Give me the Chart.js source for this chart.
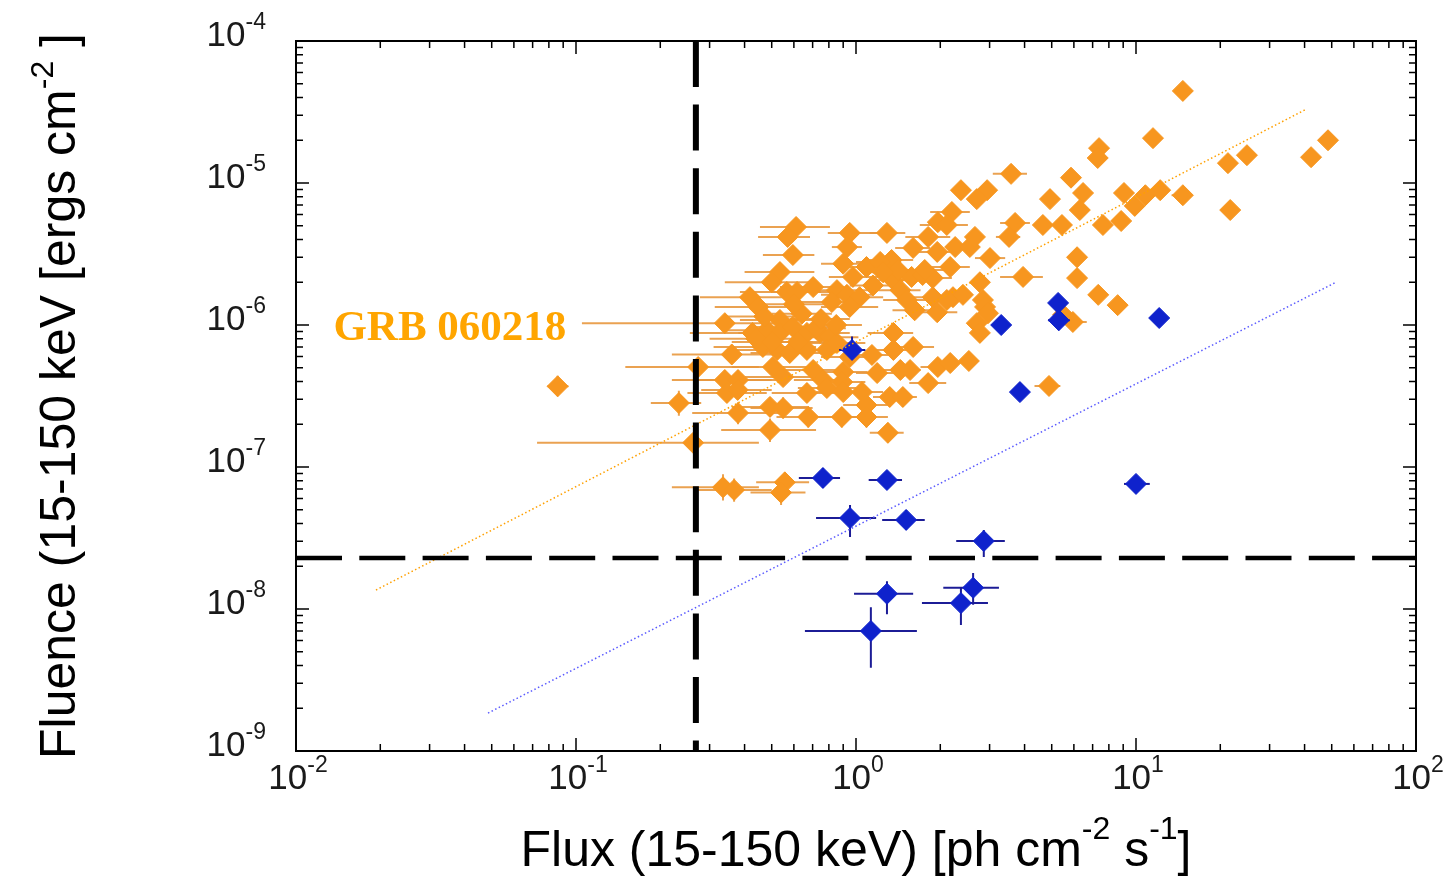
<!DOCTYPE html>
<html>
<head>
<meta charset="utf-8">
<script src="https://cdn.jsdelivr.net/npm/chart.js@4"></script>
<style>
  body { margin: 0; background: #fff; }
  #wrap { width: 1450px; height: 879px; }
</style>
</head>
<body>
<div id="wrap"><canvas id="grbChart"></canvas></div>
<script>
// axis ticks (powers of ten)
const xTickExp = [-2, -1, 0, 1, 2];
const yTickExp = [-9, -8, -7, -6, -5, -4];

// detection limits (dashed lines)
const fluxLimit = 0.268;
const fluenceLimit = 2.29e-8;

// fitted relations (dotted lines)
const orangeFitFlux = [0.0193, 40.1];
const orangeFitFluence = [1.36e-8, 3.27e-5];
const blueFitFlux = [0.0485, 51.3];
const blueFitFluence = [1.85e-9, 1.98e-6];

const grbLabel = 'GRB 060218';
const grbLabelPos = [0.0136, 1.0e-6];

// [flux, fluence, fluxLo, fluxHi, fluenceLo, fluenceHi]
const orangeRows = [
  [14.7, 4.45e-5], [11.5, 2.07e-5], [48.5, 2.0e-5], [42.2, 1.52e-5], [24.9, 1.57e-5],
  [21.3, 1.38e-5], [7.38, 1.76e-5], [7.3, 1.5e-5], [3.58, 1.16e-5, 3.08, 4.08], [5.86, 1.09e-5],
  [6.47, 8.5e-6], [9.06, 8.5e-6], [10.8, 8.2e-6], [12.2, 8.9e-6], [14.7, 8.2e-6, 13.4, 15.3],
  [9.9, 6.9e-6], [21.7, 6.45e-6], [6.3, 6.45e-6], [8.85, 5.4e-6], [7.62, 5.06e-6],
  [5.44, 5.06e-6], [4.65, 5.06e-6], [3.7, 5.23e-6, 3.27, 4.18], [3.52, 4.17e-6, 3.16, 3.86],
  [3.01, 2.96e-6, 2.66, 3.41], [6.16, 3.0e-6], [6.16, 2.14e-6], [3.95, 2.18e-6, 3.27, 4.65],
  [2.77, 2.0e-6], [7.33, 1.63e-6], [8.6, 1.38e-6], [5.49, 1.18e-6], [5.95, 1.05e-6, 5.37, 6.67],
  [4.89, 3.72e-7, 4.34, 5.37], [2.37, 8.9e-6], [2.94, 8.9e-6], [2.7, 7.7e-6], [4.93, 7.7e-6],
  [2.2, 6.25e-6, 1.84, 2.55], [1.96, 5.3e-6], [2.11, 5.06e-6, 1.69, 2.51], [1.29, 4.45e-6, 1.12, 1.5],
  [1.81, 4.17e-6, 1.5, 2.17], [1.6, 3.49e-6, 1.38, 1.84], [1.95, 3.27e-6, 1.6, 2.3], [2.26, 3.54e-6],
  [2.55, 3.54e-6], [2.66, 4.17e-6], [1.34, 2.87e-6, 1.12, 1.6], [1.29, 2.36e-6, 1.05, 1.55],
  [2.17, 2.56e-6, 1.85, 2.55], [1.58, 2.18e-6, 1.3, 1.85], [1.73, 2.25e-6], [1.88, 2.14e-6, 1.6, 2.2],
  [2.84, 1.5e-6], [1.88, 1.57e-6, 1.6, 2.25], [2.22, 1.57e-6], [2.41, 1.63e-6],
  [1.62, 1.27e-6, 1.35, 1.95], [2.89, 1.34e-6], [2.96, 1.21e-6], [2.7, 1.03e-6], [2.77, 8.8e-7],
  [1.36, 2.07e-6, 1.15, 1.6], [1.44, 1.76e-6, 1.2, 1.7], [1.52, 1.5e-6, 1.25, 1.8],
  [2.11, 1.5e-6, 1.8, 2.4], [1.95, 1.23e-6, 1.65, 2.3], [1.09, 2.56e-6, 0.9, 1.3],
  [1.22, 2.78e-6, 1.0, 1.45], [1.41, 2.44e-6, 1.15, 1.7], [1.76, 2.44e-6, 1.45, 2.1],
  [0.611, 4.9e-6, 0.454, 0.807], [0.57, 4.17e-6, 0.447, 0.685], [0.595, 3.11e-6, 0.465, 0.71],
  [0.95, 4.45e-6, 0.793, 1.2], [0.93, 3.54e-6, 0.82, 1.05], [0.535, 2.36e-6, 0.40, 0.71],
  [0.5, 2.0e-6, 0.34, 0.685], [0.975, 2.18e-6, 0.8, 1.2], [0.703, 1.85e-6, 0.535, 0.91],
  [0.566, 1.71e-6, 0.385, 0.81], [0.616, 1.71e-6, 0.5, 0.75], [0.855, 1.76e-6, 0.63, 1.12],
  [0.928, 1.63e-6, 0.75, 1.15], [1.03, 1.57e-6, 0.85, 1.25], [0.418, 1.57e-6, 0.277, 0.63],
  [0.448, 1.34e-6, 0.313, 0.58], [0.34, 1.03e-6, 0.105, 0.513], [0.82, 1.45e-6, 0.62, 1.05],
  [0.95, 1.34e-6, 0.75, 1.2], [0.427, 8.8e-7, 0.255, 0.685], [0.481, 9.2e-7, 0.33, 0.72],
  [0.535, 1.085e-6, 0.385, 0.76], [0.535, 8.8e-7, 0.38, 0.72], [0.595, 9.7e-7, 0.43, 0.8],
  [0.668, 8.8e-7, 0.5, 0.88], [0.744, 8.8e-7, 0.57, 0.95], [0.807, 8.2e-7, 0.62, 1.02],
  [0.465, 7.0e-7, 0.31, 0.72], [0.523, 6.67e-7, 0.37, 0.72], [0.58, 6.35e-7, 0.42, 0.8],
  [0.668, 6.67e-7, 0.5, 0.85], [0.787, 6.67e-7, 0.6, 1.0], [0.855, 7.47e-7, 0.65, 1.08],
  [1.36, 8.8e-7, 1.1, 1.6], [1.6, 7.0e-7, 1.35, 1.9], [0.95, 5.95e-7, 0.75, 1.2],
  [1.14, 6.15e-7, 0.95, 1.4], [1.36, 6.67e-7, 1.12, 1.6], [0.505, 5.06e-7, 0.36, 0.7],
  [0.549, 4.3e-7, 0.4, 0.72], [0.703, 4.82e-7, 0.55, 0.9], [0.762, 4.1e-7, 0.6, 0.95],
  [0.9, 4.67e-7, 0.72, 1.1], [0.893, 3.97e-7, 0.72, 1.08], [1.19, 4.59e-7, 1.0, 1.4],
  [1.44, 4.82e-7, 1.2, 1.7], [1.56, 4.82e-7], [1.96, 5.06e-7, 1.7, 2.25], [2.17, 5.4e-7],
  [2.53, 5.58e-7], [1.81, 3.9e-7, 1.55, 2.1],
  [0.34, 4.1e-7, 0.22, 0.5, 3.5e-7, 4.8e-7], [0.379, 4.1e-7, 0.27, 0.55, 3.5e-7, 4.8e-7],
  [0.346, 3.32e-7, 0.25, 0.48, 2.85e-7, 3.9e-7], [0.378, 3.49e-7, 0.28, 0.5],
  [0.273, 5.06e-7, 0.15, 0.45], [0.668, 3.32e-7, 0.5, 0.88, 2.85e-7, 3.9e-7],
  [0.787, 3.6e-7, 0.62, 1.0], [0.9, 3.37e-7, 0.72, 1.1, 2.9e-7, 3.9e-7],
  [1.05, 3.37e-7, 0.88, 1.25], [1.09, 2.73e-7, 0.9, 1.3, 2.35e-7, 3.2e-7],
  [1.32, 3.11e-7, 1.15, 1.5, 2.65e-7, 3.6e-7], [1.47, 3.11e-7, 1.3, 1.65, 2.65e-7, 3.6e-7],
  [0.379, 2.4e-7, 0.26, 0.55, 2.0e-7, 2.85e-7], [0.493, 2.65e-7, 0.36, 0.68, 2.25e-7, 3.1e-7],
  [0.549, 2.6e-7, 0.42, 0.7, 2.2e-7, 3.1e-7], [0.675, 2.25e-7, 0.52, 0.85, 1.9e-7, 2.65e-7],
  [0.89, 2.25e-7, 0.72, 1.08, 1.9e-7, 2.65e-7], [1.09, 2.25e-7, 0.92, 1.3, 1.9e-7, 2.65e-7],
  [0.493, 1.82e-7, 0.33, 0.72, 1.5e-7, 2.2e-7], [1.3, 1.74e-7, 1.12, 1.48, 1.48e-7, 2.05e-7],
  [0.262, 1.48e-7, 0.0726, 0.45], [0.233, 2.82e-7, 0.185, 0.28, 2.3e-7, 3.45e-7],
  [0.086, 3.7e-7, 0.079, 0.094, 3.15e-7, 4.4e-7],
  [0.335, 7.2e-8, 0.22, 0.45, 5.8e-8, 8.9e-8], [0.367, 6.9e-8, 0.27, 0.5, 5.7e-8, 8.3e-8],
  [0.557, 7.8e-8, 0.44, 0.68, 6.6e-8, 9.2e-8], [0.54, 6.6e-8, 0.42, 0.66, 5.4e-8, 8.0e-8],
  [0.44, 8.0e-7, 0.3, 0.62], [0.5, 7.6e-7, 0.36, 0.7], [0.62, 7.6e-7, 0.47, 0.8],
  [0.72, 9.5e-7, 0.55, 0.92], [0.47, 1.15e-6, 0.34, 0.65], [0.64, 1.2e-6, 0.5, 0.82],
  [0.75, 1.1e-6, 0.58, 0.95], [0.85, 1.0e-6, 0.68, 1.05], [0.6, 1.4e-6, 0.45, 0.78],
  [0.36, 6.2e-7, 0.22, 0.55], [0.9, 2.7e-6, 0.75, 1.08], [1.15, 1.9e-6, 0.95, 1.4],
  [1.25, 2.35e-6, 1.05, 1.5]
];

const blueRows = [
  [0.762, 8.37e-8, 0.625, 0.877, 7.1e-8, 9.84e-8],
  [1.29, 8.1e-8, 1.11, 1.46, 7.6e-8, 8.6e-8],
  [0.952, 4.37e-8, 0.72, 1.18, 3.21e-8, 5.4e-8],
  [1.51, 4.24e-8, 1.24, 1.76, 3.6e-8, 4.98e-8],
  [2.86, 3.01e-8, 2.28, 3.4, 2.32e-8, 3.6e-8],
  [1.29, 1.28e-8, 0.984, 1.6, 9.2e-9, 1.57e-8],
  [2.62, 1.41e-8, 2.05, 3.24, 1.07e-8, 1.79e-8],
  [2.37, 1.1e-8, 1.72, 2.96, 7.7e-9, 1.43e-8],
  [1.13, 7.0e-9, 0.657, 1.65, 3.85e-9, 1.03e-8],
  [0.968, 6.67e-7, 0.87, 1.08, 5.8e-7, 8.3e-7],
  [3.3, 1.0e-6, 3.05, 3.5],
  [5.27, 1.43e-6],
  [5.3, 1.08e-6, 4.85, 5.8, 9.2e-7, 1.27e-6],
  [12.1, 1.12e-6],
  [3.85, 3.37e-7, 3.6, 4.05],
  [10.0, 7.6e-8, 9.06, 11.2]
];

function toPoints(rows) {
  return rows.map(r => ({ x: r[0], y: r[1], xLo: r[2], xHi: r[3], yLo: r[4], yHi: r[5] }));
}

const FONT = '"Liberation Sans", Arial, Helvetica, sans-serif';

const errorBars = {
  id: 'errorBars',
  beforeDatasetDraw(chart, args) {
    const ds = chart.data.datasets[args.index];
    if (!ds.errorColor) return;
    const ctx = chart.ctx;
    const xs = chart.scales.x, ys = chart.scales.y;
    ctx.save();
    ctx.strokeStyle = ds.errorColor;
    ctx.lineWidth = 2;
    ds.data.forEach(p => {
      const px = xs.getPixelForValue(p.x);
      const py = ys.getPixelForValue(p.y);
      ctx.beginPath();
      if (p.xLo != null) {
        ctx.moveTo(xs.getPixelForValue(p.xLo), py);
        ctx.lineTo(xs.getPixelForValue(p.xHi), py);
      }
      if (p.yLo != null) {
        ctx.moveTo(px, ys.getPixelForValue(p.yLo));
        ctx.lineTo(px, ys.getPixelForValue(p.yHi));
      }
      ctx.stroke();
    });
    ctx.restore();
  }
};

function drawRich(ctx, parts, cx, cy, size, supSize, rise, align) {
  let total = 0;
  parts.forEach(p => {
    ctx.font = (p.sup ? supSize : size) + 'px ' + FONT;
    p.w = ctx.measureText(p.t).width;
    total += p.w;
  });
  let x = align === 'right' ? cx - total : cx - total / 2;
  parts.forEach(p => {
    ctx.font = (p.sup ? supSize : size) + 'px ' + FONT;
    ctx.fillText(p.t, x, p.sup ? cy - rise : cy);
    x += p.w;
  });
}

const frameAxes = {
  id: 'frameAxes',
  afterDraw(chart) {
    const ctx = chart.ctx;
    const a = chart.chartArea;
    const xs = chart.scales.x, ys = chart.scales.y;
    ctx.save();
    ctx.strokeStyle = '#000';
    ctx.lineWidth = 2;
    ctx.strokeRect(a.left, a.top, a.right - a.left, a.bottom - a.top);

    // inward ticks on all four sides
    ctx.lineWidth = 1.5;
    ctx.beginPath();
    for (let e = xTickExp[0]; e < xTickExp[xTickExp.length - 1]; e++) {
      for (let m = 1; m <= 9; m++) {
        const px = xs.getPixelForValue(m * Math.pow(10, e));
        const len = m === 1 ? 13 : 7;
        ctx.moveTo(px, a.bottom); ctx.lineTo(px, a.bottom - len);
        ctx.moveTo(px, a.top); ctx.lineTo(px, a.top + len);
      }
    }
    for (let e = yTickExp[0]; e < yTickExp[yTickExp.length - 1]; e++) {
      for (let m = 1; m <= 9; m++) {
        const py = ys.getPixelForValue(m * Math.pow(10, e));
        const len = m === 1 ? 13 : 7;
        ctx.moveTo(a.left, py); ctx.lineTo(a.left + len, py);
        ctx.moveTo(a.right, py); ctx.lineTo(a.right - len, py);
      }
    }
    ctx.stroke();

    // tick labels
    ctx.fillStyle = '#1a1a1a';
    ctx.textBaseline = 'alphabetic';
    xTickExp.forEach(e => {
      const px = xs.getPixelForValue(Math.pow(10, e));
      drawRich(ctx, [{ t: '10' }, { t: String(e), sup: true }],
        px + 2, a.bottom + 38, 35, 23, 17, 'center');
    });
    yTickExp.forEach(e => {
      const py = ys.getPixelForValue(Math.pow(10, e));
      drawRich(ctx, [{ t: '10' }, { t: String(e), sup: true }],
        a.left - 30, py + 5, 35, 23, 17, 'right');
    });

    // axis titles
    ctx.fillStyle = '#000';
    drawRich(ctx, [{ t: 'Flux (15-150 keV) [ph cm' }, { t: '-2', sup: true }, { t: ' s' },
      { t: '-1', sup: true }, { t: ']' }],
      (a.left + a.right) / 2, 866, 50, 32, 27, 'center');
    ctx.save();
    ctx.translate(75, (a.top + a.bottom) / 2);
    ctx.rotate(-Math.PI / 2);
    drawRich(ctx, [{ t: 'Fluence (15-150 keV [ergs cm' }, { t: '-2', sup: true }, { t: ' ]' }],
      0, 0, 50, 32, 22, 'center');
    ctx.restore();

    // annotation
    ctx.fillStyle = '#FFA500';
    ctx.font = 'bold 43px "Liberation Serif", "Times New Roman", serif';
    ctx.textAlign = 'left';
    ctx.fillText(grbLabel, xs.getPixelForValue(grbLabelPos[0]), ys.getPixelForValue(grbLabelPos[1]) + 15);
    ctx.restore();
  }
};

const ctx = document.getElementById('grbChart').getContext('2d');
const grbChart = new Chart(ctx, {
  type: 'scatter',
  data: {
    datasets: [
      {
        label: 'flux limit',
        data: [{ x: fluxLimit, y: 1e-4 }, { x: fluxLimit, y: 1e-9 }],
        showLine: true, pointRadius: 0, borderColor: '#000', borderWidth: 6,
        borderDash: [46, 17.6], order: 0
      },
      {
        label: 'fluence limit',
        data: [{ x: 0.01, y: fluenceLimit }, { x: 100, y: fluenceLimit }],
        showLine: true, pointRadius: 0, borderColor: '#000', borderWidth: 4.5,
        borderDash: [46, 17.3], order: 0
      },
      {
        label: 'orange fit',
        data: orangeFitFlux.map((f, i) => ({ x: f, y: orangeFitFluence[i] })),
        showLine: true, pointRadius: 0, borderColor: '#FFA000', borderWidth: 1.5,
        borderDash: [1.5, 2.5], order: 0
      },
      {
        label: 'blue fit',
        data: blueFitFlux.map((f, i) => ({ x: f, y: blueFitFluence[i] })),
        showLine: true, pointRadius: 0, borderColor: '#5A5AFF', borderWidth: 1.5,
        borderDash: [1.5, 2.5], order: 0
      },
      {
        label: 'short',
        data: toPoints(blueRows),
        pointStyle: 'rectRot', pointRadius: 10.5, pointHoverRadius: 10.5,
        backgroundColor: '#0F22CC', borderColor: '#0F22CC', borderWidth: 1,
        errorColor: '#1C1C96', order: 1
      },
      {
        label: 'long',
        data: toPoints(orangeRows),
        pointStyle: 'rectRot', pointRadius: 10.5, pointHoverRadius: 10.5,
        backgroundColor: '#F7961F', borderColor: '#F7961F', borderWidth: 1,
        errorColor: 'rgba(232,152,62,0.9)', order: 2
      }
    ]
  },
  options: {
    responsive: true,
    maintainAspectRatio: false,
    animation: false,
    layout: { padding: { left: 296, top: 41, right: 34, bottom: 128 } },
    plugins: { legend: { display: false }, tooltip: { enabled: false } },
    scales: {
      x: { type: 'logarithmic', min: 0.01, max: 100, display: false },
      y: { type: 'logarithmic', min: 1e-9, max: 1e-4, display: false }
    }
  },
  plugins: [errorBars, frameAxes]
});
</script>
</body>
</html>
